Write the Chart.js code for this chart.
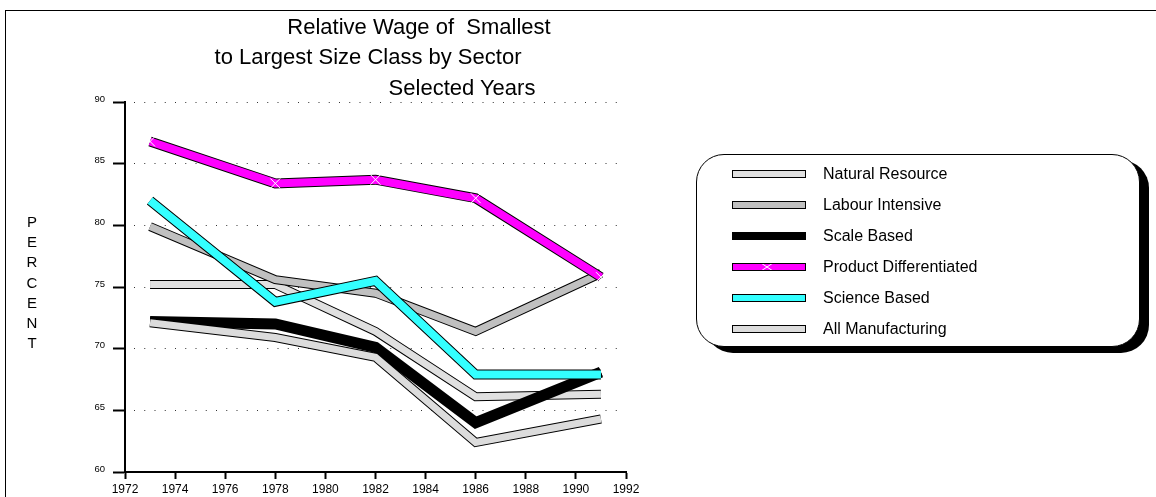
<!DOCTYPE html>
<html lang="en">
<head>
  <meta charset="UTF-8">
  <title>Relative Wage of Smallest to Largest Size Class by Sector</title>
  <script src="https://cdn.jsdelivr.net/npm/chart.js"></script>
  <style>
    html, body { margin: 0; padding: 0; background: #fff; }
    body { width: 1156px; height: 497px; overflow: hidden; position: relative; font-family: Arial, "Liberation Sans", sans-serif; color: #000; }
    .frame { position: absolute; left: 5px; top: 10px; width: 1400px; height: 800px; border: 1px solid #000; }
    canvas { position: absolute; left: 0; top: 0; }
    .title { position: absolute; font-size: 22px; line-height: 22px; white-space: pre; transform: translateX(-50%); }
    .ytitle { position: absolute; left: 26px; top: 212px; width: 12px; font-size: 15px; line-height: 20.2px; word-break: break-all; text-align: center; }
    .legend { position: absolute; left: 696px; top: 154px; width: 442px; height: 191px; border: 1px solid #000; border-radius: 28px; box-shadow: 9px 6px 0 #000; background: #fff; }
    .legend .row { position: absolute; left: 0; height: 20px; }
    .legend .swatch { position: absolute; left: 35px; top: 6px; width: 72px; height: 6px; border: 1px solid #000; }
    .legend .swatch svg { position: absolute; left: 0; top: 0; }
    .legend .name { position: absolute; left: 126px; top: 0; font-size: 16px; line-height: 20px; white-space: nowrap; }
  </style>
</head>
<body>
  <div class="frame"></div>
  <canvas id="wageChart" width="1156" height="497"></canvas>
  <div class="title" style="left:419px; top:16px;">Relative Wage of  Smallest</div>
  <div class="title" style="left:368px; top:46px;">to Largest Size Class by Sector</div>
  <div class="title" style="left:462px; top:77px;">Selected Years</div>
  <div class="ytitle">PERCENT</div>
  <div class="legend" id="legend"></div>
  <script>
    // survey years and tick setup
    const years = [1973, 1978, 1982, 1986, 1991];
    const yearTicks = { min: 1972, max: 1992, step: 2 };
    const percentTicks = { min: 60, max: 90, step: 5 };

    // relative wage (%) of smallest to largest size class
    const naturalResource  = [75.2, 75.2, 71.4, 66.1, 66.3];
    const labourIntensive  = [79.9, 75.6, 74.5, 71.4, 76.1];
    const scaleBased       = [72.2, 72.0, 70.1, 64.0, 68.1];
    const productDiff      = [86.8, 83.4, 83.7, 82.2, 75.8];
    const scienceBased     = [82.0, 73.8, 75.5, 67.9, 67.9];
    const allManufacturing = [72.1, 70.9, 69.3, 62.4, 64.3];

    const seriesNames  = ['Natural Resource', 'Labour Intensive', 'Scale Based', 'Product Differentiated', 'Science Based', 'All Manufacturing'];
    const seriesValues = [naturalResource, labourIntensive, scaleBased, productDiff, scienceBased, allManufacturing];
    const seriesColors = ['#e0e0e0', '#c0c0c0', '#000000', '#ff00ff', '#33ffff', '#dcdcdc'];
    const seriesWidths = [7, 7, 9, 8, 8, 7];

    Chart.defaults.font.family = 'Arial, "Liberation Sans", sans-serif';

    // each series = black outline line + coloured line on top;
    // lower "order" is painted later, so count down as we go
    const datasets = [];
    let order = 100;
    seriesValues.forEach((vals, i) => {
      const pts = years.map((yr, k) => ({ x: yr, y: vals[k] }));
      datasets.push({
        label: seriesNames[i] + ' outline',
        data: pts,
        order: order--,
        borderColor: '#000',
        borderWidth: seriesWidths[i] + 2,
        pointRadius: 0,
        tension: 0
      });
      const isStar = seriesNames[i] === 'Product Differentiated';
      datasets.push({
        label: seriesNames[i],
        data: pts,
        order: order--,
        borderColor: seriesColors[i],
        borderWidth: seriesWidths[i],
        pointRadius: isStar ? 7 : 0,
        pointStyle: 'crossRot',
        pointBorderColor: '#fff',
        pointBorderWidth: 1,
        pointBackgroundColor: 'transparent',
        tension: 0
      });
    });

    new Chart(document.getElementById('wageChart'), {
      type: 'line',
      data: { datasets },
      options: {
        responsive: false,
        animation: false,
        events: [],
        layout: { padding: { left: 0, top: 102, right: 530, bottom: 0 } },
        plugins: { legend: { display: false }, tooltip: { enabled: false }, title: { display: false } },
        scales: {
          x: {
            type: 'linear',
            min: yearTicks.min,
            max: yearTicks.max,
            ticks: {
              stepSize: yearTicks.step,
              color: '#000',
              font: { family: '"Liberation Sans Narrow", Arial, sans-serif', size: 12 },
              padding: 3,
              maxRotation: 0,
              autoSkip: false,
              callback: v => String(v)
            },
            grid: { drawOnChartArea: false, tickLength: 7, tickWidth: 2, tickColor: '#000' },
            border: { color: '#000', width: 2 },
            afterFit: s => { s.height = 25; }
          },
          y: {
            min: percentTicks.min,
            max: percentTicks.max,
            ticks: { stepSize: percentTicks.step, color: '#000', font: { size: 9.5 }, padding: 8, labelOffset: -3 },
            grid: { color: '#333', lineWidth: 1, tickLength: 12, tickWidth: 2, tickColor: '#000' },
            border: { color: '#000', width: 2, dash: [1, 9.25], dashOffset: 2.25 },
            afterFit: s => { s.width = 125; }
          }
        }
      }
    });

    // legend rows built from the same series lists
    const legend = document.getElementById('legend');
    seriesNames.forEach((name, i) => {
      const row = document.createElement('div');
      row.className = 'row';
      row.style.top = (9 + 31 * i) + 'px';
      row.style.width = '100%';
      let mark = '';
      if (name === 'Product Differentiated') {
        mark = '<svg width="72" height="6"><line x1="28" y1="-1" x2="40" y2="7" stroke="#fff" stroke-width="1"/><line x1="28" y1="7" x2="40" y2="-1" stroke="#fff" stroke-width="1"/></svg>';
      }
      row.innerHTML = `<div class="swatch" style="background:${seriesColors[i]}">${mark}</div><div class="name">${name}</div>`;
      legend.appendChild(row);
    });
  </script>
</body>
</html>
